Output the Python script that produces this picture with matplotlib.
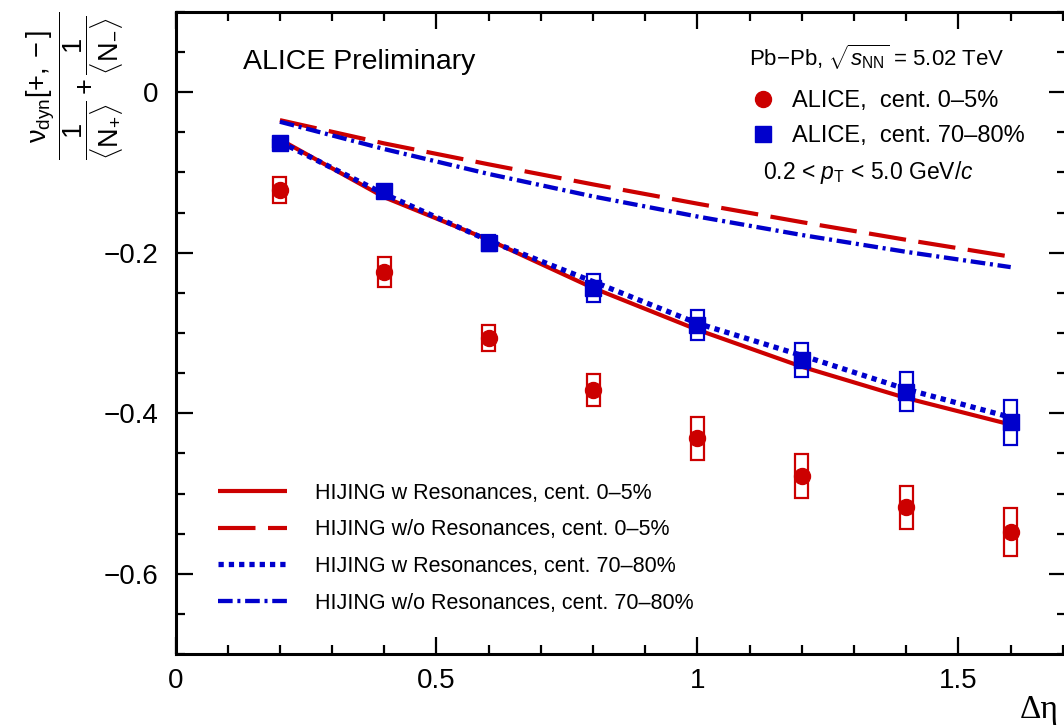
import matplotlib
matplotlib.use("Agg")
import matplotlib.pyplot as plt
import numpy as np

plt.rcParams['font.family'] = ['Liberation Sans', 'DejaVu Sans']
plt.rcParams['mathtext.fontset'] = 'custom'
plt.rcParams['mathtext.rm'] = 'Liberation Sans'
plt.rcParams['mathtext.it'] = 'Liberation Sans:italic'
plt.rcParams['mathtext.bf'] = 'Liberation Sans:bold'

RED = '#cc0000'
BLUE = '#0000cc'

# delta eta bins
deta = [0.2, 0.4, 0.6, 0.8, 1.0, 1.2, 1.4, 1.6]

# ALICE data, cent. 0-5%
alice_c0 = [-0.122, -0.224, -0.306, -0.371, -0.431, -0.478, -0.517, -0.548]
alice_c0_sys = [0.016, 0.019, 0.016, 0.020, 0.027, 0.027, 0.027, 0.030]

# ALICE data, cent. 70-80%
alice_c70 = [-0.064, -0.123, -0.188, -0.244, -0.290, -0.334, -0.373, -0.411]
alice_c70_sys = [0.004, 0.006, 0.010, 0.017, 0.019, 0.021, 0.024, 0.028]

# HIJING curves
hij_res_c0 = [-0.059, -0.131, -0.184, -0.244, -0.296, -0.342, -0.381, -0.414]
hij_nores_c0 = [-0.035, -0.064, -0.090, -0.115, -0.139, -0.162, -0.184, -0.205]
hij_res_c70 = [-0.062, -0.127, -0.185, -0.236, -0.288, -0.328, -0.370, -0.405]
hij_nores_c70 = [-0.037, -0.071, -0.102, -0.130, -0.155, -0.178, -0.199, -0.218]

W, H = 1064, 726
fig = plt.figure(figsize=(W / 100, H / 100), dpi=100)

def fx(px):
    return px / W

def fy(py):
    return 1 - py / H

ax = fig.add_axes([fx(175.5), fy(654.3), fx(1065.5) - fx(175.5), fy(11.7) - fy(654.3)])
ax.set_xlim(0, 1.705)
ax.set_ylim(-0.7, 0.1)

# models
l1, = ax.plot(deta, hij_res_c0, color=RED, lw=3.0, solid_capstyle='butt')
l2, = ax.plot(deta, hij_nores_c0, color=RED, lw=3.0, linestyle=(0, (9.0, 3.0)))
l3, = ax.plot(deta, hij_res_c70, color=BLUE, lw=3.8, linestyle=(0, (1.0, 0.95)))
l4, = ax.plot(deta, hij_nores_c70, color=BLUE, lw=3.1, linestyle=(0, (3.4, 1.1, 0.7, 1.1)))

# systematic boxes
ax.bar(deta, 2 * np.array(alice_c0_sys), bottom=np.array(alice_c0) - np.array(alice_c0_sys),
       width=0.025, fill=False, edgecolor=RED, linewidth=1.6, zorder=4)
ax.bar(deta, 2 * np.array(alice_c70_sys), bottom=np.array(alice_c70) - np.array(alice_c70_sys),
       width=0.025, fill=False, edgecolor=BLUE, linewidth=1.6, zorder=4)

# data points
p1, = ax.plot(deta, alice_c0, 'o', color=RED, ms=11.5, mec=RED, zorder=5, linestyle='none')
p2, = ax.plot(deta, alice_c70, 's', color=BLUE, ms=11, mec=BLUE, zorder=5, linestyle='none')

# axis style
ax.set_xticks([0, 0.5, 1, 1.5])
ax.set_xticklabels(['0', '0.5', '1', '1.5'])
ax.set_xticks(np.arange(0, 1.71, 0.1), minor=True)
ax.set_yticks([-0.6, -0.4, -0.2, 0])
ax.set_yticklabels(['\u22120.6', '\u22120.4', '\u22120.2', '0'])
ax.set_yticks(np.arange(-0.7, 0.101, 0.05), minor=True)
ax.tick_params(which='both', direction='in', top=True, right=True, width=1.6, labelsize=20)
ax.tick_params(which='major', length=12)
ax.tick_params(which='minor', length=6.5)
ax.tick_params(axis='y', which='major', pad=12)
ax.tick_params(axis='x', which='major', pad=10)
for s in ax.spines.values():
    s.set_linewidth(2.2)

# y title
fig.text(fx(75), fy(12),
         r'$\dfrac{\mathrm{ν}_{\mathrm{dyn}}[+,-]}{\dfrac{1}{\langle \mathrm{N}_{+}\rangle}+\dfrac{1}{\langle \mathrm{N}_{-}\rangle}}$',
         rotation=90, ha='center', va='top', fontsize=19.5)

# x title
fig.text(fx(1020), fy(710), '\u0394\u03b7', ha='left', va='center', fontsize=24,
         family=['Liberation Serif', 'DejaVu Serif'])

fig.text(fx(243), fy(62), 'ALICE Preliminary', ha='left', va='center', fontsize=20.5)
fig.text(fx(749), fy(57), r'Pb$-$Pb, $\sqrt{s_{\mathrm{NN}}}$ = 5.02 TeV', ha='left', va='center', fontsize=16)
fig.text(fx(763), fy(172), r'0.2 < $p_{\mathrm{T}}$ < 5.0 GeV/$c$', ha='left', va='center', fontsize=16.5)

leg1 = fig.legend([p1, p2], ['ALICE,  cent. 0\u20135%', 'ALICE,  cent. 70\u201380%'],
                  loc='upper left', bbox_to_anchor=(fx(751), fy(90)), frameon=False,
                  fontsize=17, handlelength=1.0, handletextpad=0.75, labelspacing=0.55,
                  borderaxespad=0, borderpad=0)

leg2 = fig.legend([l1, l2, l3, l4],
                  ['HIJING w Resonances, cent. 0\u20135%',
                   'HIJING w/o Resonances, cent. 0\u20135%',
                   'HIJING w Resonances, cent. 70\u201380%',
                   'HIJING w/o Resonances, cent. 70\u201380%'],
                  loc='upper left', bbox_to_anchor=(fx(218), fy(483)), frameon=False,
                  fontsize=15.5, handlelength=3.2, handletextpad=1.3, labelspacing=0.72,
                  borderaxespad=0, borderpad=0)

fig.savefig('out.png', dpi=100)
